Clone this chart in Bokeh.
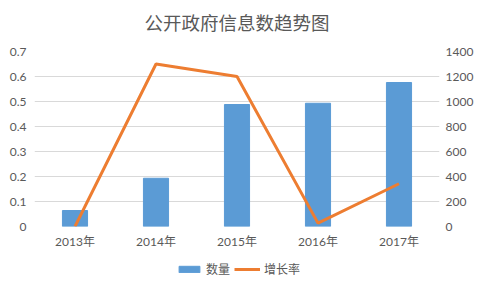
from bokeh.plotting import figure
from bokeh.layouts import column
from bokeh.models import (FactorRange, Range1d, LinearAxis, FixedTicker, Legend,
                          LegendItem, ColumnDataSource, Label)
from bokeh.embed import file_html
from bokeh.resources import INLINE

# ---- data ----
years = ["2013年", "2014年", "2015年", "2016年", "2017年"]
quantity = [0.064, 0.193, 0.488, 0.493, 0.576]      # 数量 (left axis)
growth = [0, 1300, 1200, 27, 342]                    # 增长率 (right axis)
left_ticks = [0, 0.1, 0.2, 0.3, 0.4, 0.5, 0.6, 0.7]
right_ticks = [0, 200, 400, 600, 800, 1000, 1200, 1400]
title_text = "公开政府信息数趋势图"
series_names = ["数量", "增长率"]

FONT = "Lato, 'Noto Sans CJK SC', sans-serif"
CJK = "'Noto Sans CJK SC', sans-serif"
TXT = "#595959"
BAR_C = "#5B9BD5"
LINE_C = "#ED7D31"
W = 481


def strip(h):
    f = figure(width=W, height=h, x_range=Range1d(0, W), y_range=Range1d(0, h),
               output_backend="svg", toolbar_location=None,
               min_border_left=0, min_border_right=0, min_border_top=0,
               min_border_bottom=0)
    f.axis.visible = False
    f.grid.visible = False
    f.outline_line_color = None
    return f


# ---- title strip ----
tf = strip(40)
tf.add_layout(Label(x=W / 2, y=19, text=title_text, text_align="center",
                    text_baseline="middle", text_font=CJK,
                    text_font_size="18.5px", text_color=TXT))

# ---- main chart ----
src = ColumnDataSource(dict(x=years, q=quantity, g=growth))

p = figure(width=W, height=216, x_range=FactorRange(*years, range_padding=0),
           y_range=Range1d(0, 0.7), output_backend="svg", toolbar_location=None,
           min_border_left=34, min_border_right=42, min_border_top=11,
           min_border_bottom=30)
p.outline_line_color = None
p.extra_y_ranges = {"r": Range1d(0, 1400)}

bars = p.vbar(x="x", top="q", width=0.31, source=src, color=BAR_C)
line = p.line(x="x", y="g", source=src, y_range_name="r", color=LINE_C,
              line_width=3)

p.yaxis.ticker = FixedTicker(ticks=left_ticks)
raxis = LinearAxis(y_range_name="r", ticker=FixedTicker(ticks=right_ticks))
p.add_layout(raxis, "right")

for ax in [p.yaxis[0], raxis, p.xaxis[0]]:
    ax.axis_line_color = None
    ax.major_tick_line_color = None
    ax.minor_tick_line_color = None
    ax.major_tick_out = 0
    ax.major_tick_in = 0
    ax.minor_tick_out = 0
    ax.major_label_text_font = FONT
    ax.major_label_text_font_size = "12px"
    ax.major_label_text_color = TXT
p.yaxis[0].major_label_standoff = 8
raxis.major_label_standoff = 6
p.xaxis[0].major_label_standoff = 7

p.xgrid.grid_line_color = None
p.ygrid.grid_line_color = "#D9D9D9"
p.ygrid.grid_line_width = 1

# ---- legend strip (legend-only renderers hold no visible data) ----
nan = float("nan")
lg = strip(33)
lb = lg.vbar(x=[nan], top=[nan], width=0.3, color=BAR_C)
ll = lg.line(x=[nan], y=[nan], color=LINE_C, line_width=3)

legend = Legend(items=[LegendItem(label=series_names[0], renderers=[lb]),
                       LegendItem(label=series_names[1], renderers=[ll])],
                orientation="horizontal", location=(142, 12),
                glyph_width=26, glyph_height=8, label_standoff=4, spacing=4,
                padding=0, margin=0, border_line_color=None,
                background_fill_alpha=0,
                label_text_font=CJK, label_text_font_size="12px",
                label_text_color=TXT)
lg.add_layout(legend, "center")

layout = column(tf, p, lg, spacing=0)
open("out.html", "w").write(file_html(layout, INLINE))
